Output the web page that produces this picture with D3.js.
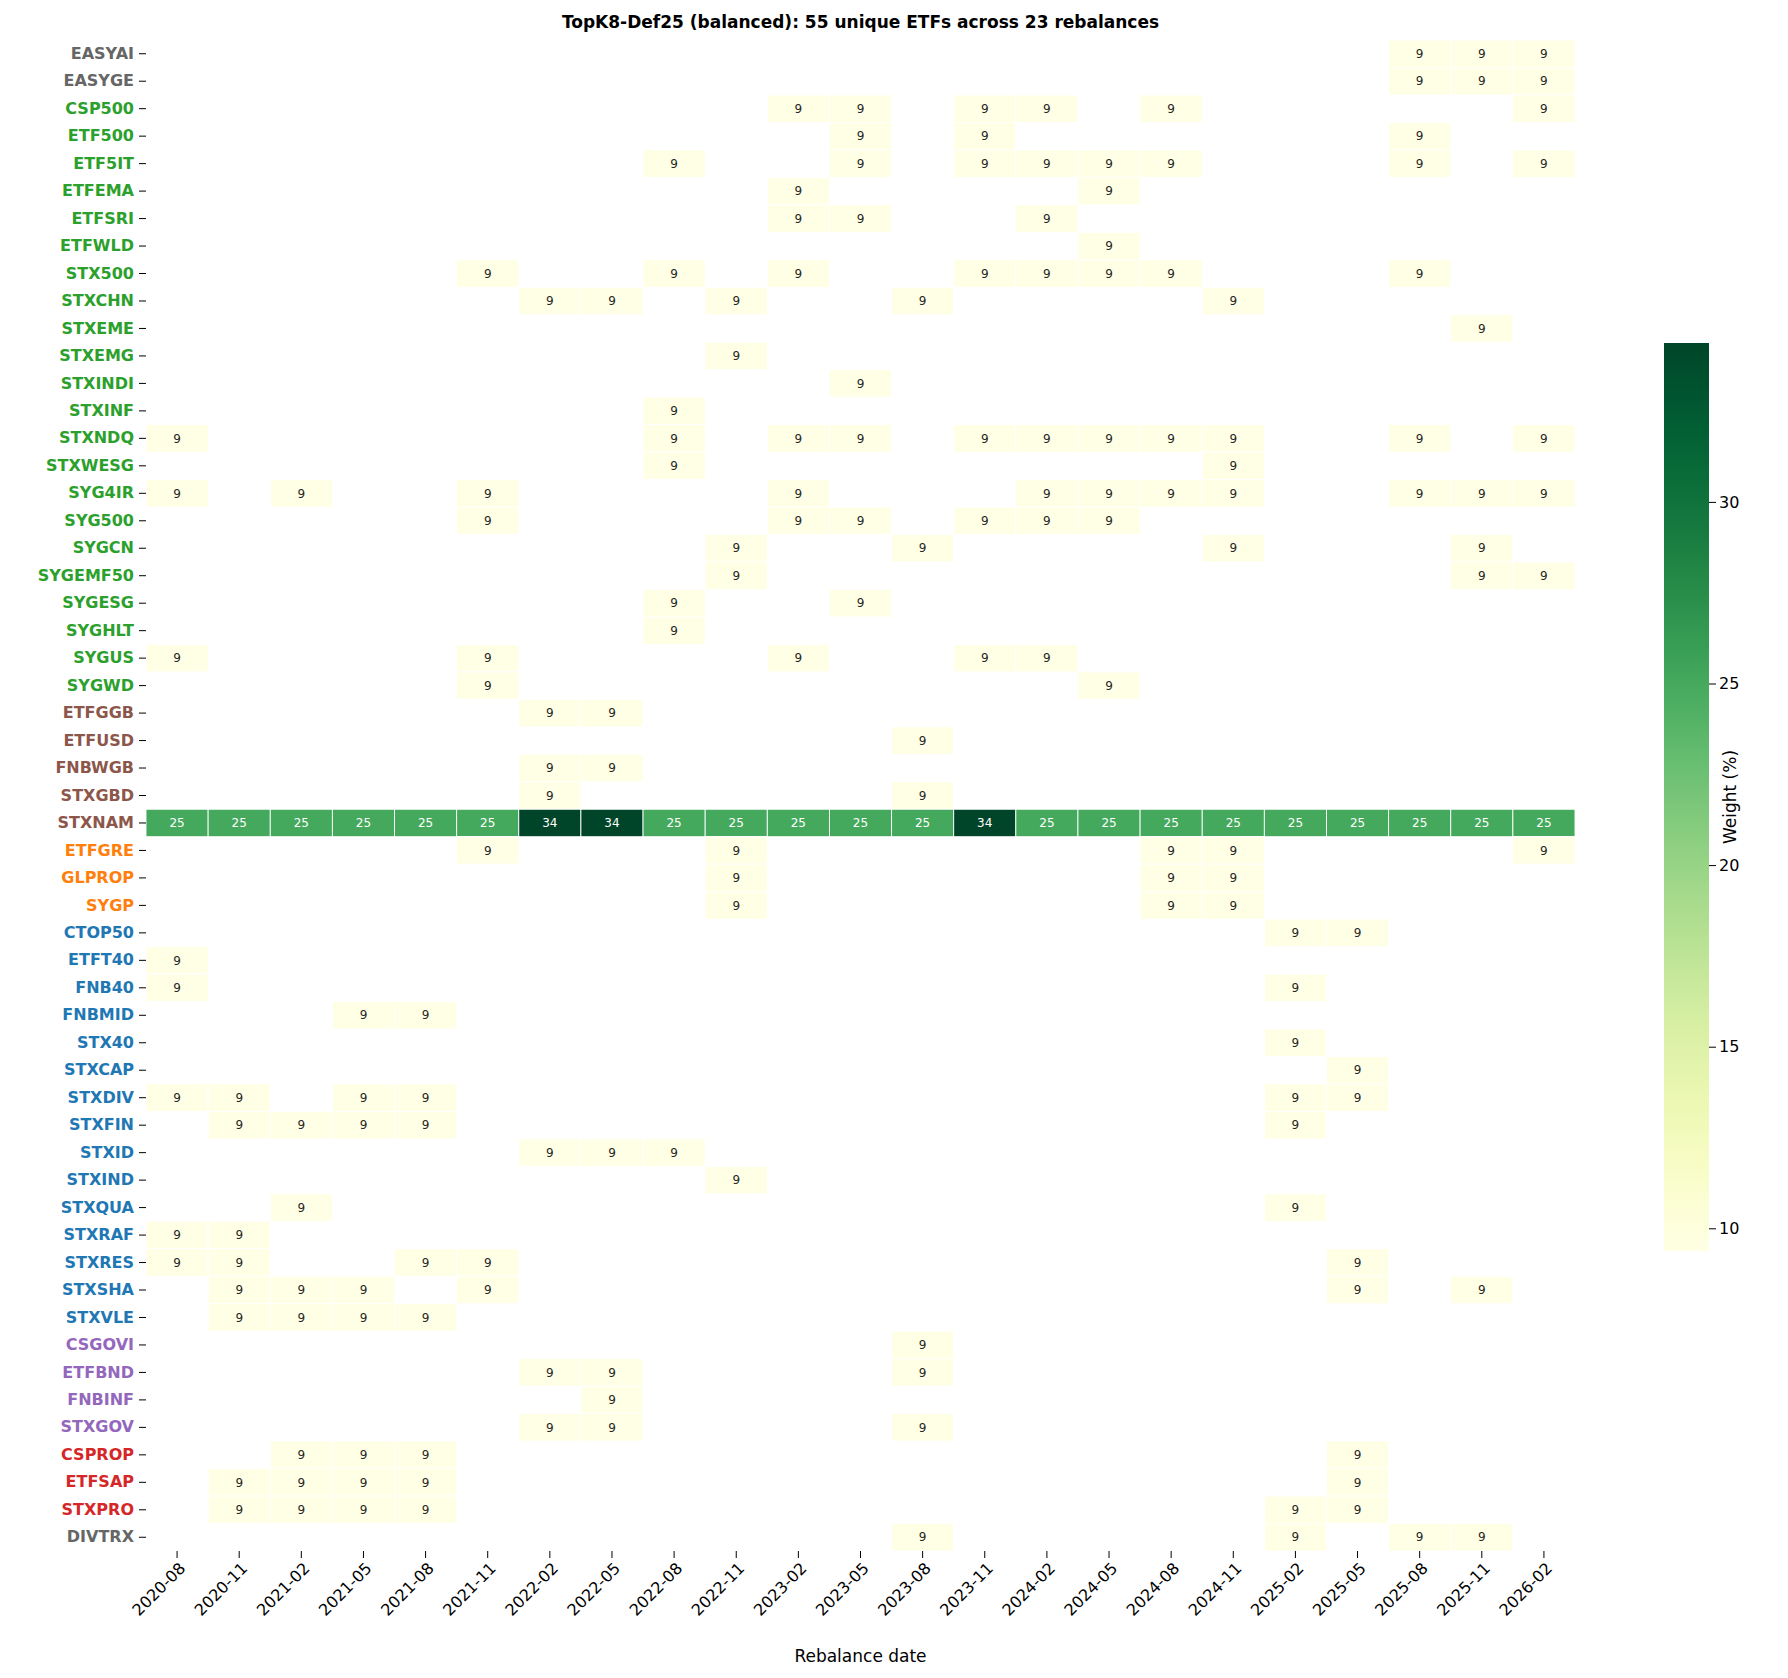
<!DOCTYPE html>
<html><head><meta charset="utf-8">
<script src="https://cdn.jsdelivr.net/npm/d3@7"></script>
<style>body{margin:0;background:#fff;font-family:"DejaVu Sans",sans-serif;}</style>
</head><body><svg id="c" width="1788" height="1678"></svg>
<script>
const dates=["2020-08","2020-11","2021-02","2021-05","2021-08","2021-11","2022-02","2022-05","2022-08","2022-11","2023-02","2023-05","2023-08","2023-11","2024-02","2024-05","2024-08","2024-11","2025-02","2025-05","2025-08","2025-11","2026-02"];
const etfs=["EASYAI","EASYGE","CSP500","ETF500","ETF5IT","ETFEMA","ETFSRI","ETFWLD","STX500","STXCHN","STXEME","STXEMG","STXINDI","STXINF","STXNDQ","STXWESG","SYG4IR","SYG500","SYGCN","SYGEMF50","SYGESG","SYGHLT","SYGUS","SYGWD","ETFGGB","ETFUSD","FNBWGB","STXGBD","STXNAM","ETFGRE","GLPROP","SYGP","CTOP50","ETFT40","FNB40","FNBMID","STX40","STXCAP","STXDIV","STXFIN","STXID","STXIND","STXQUA","STXRAF","STXRES","STXSHA","STXVLE","CSGOVI","ETFBND","FNBINF","STXGOV","CSPROP","ETFSAP","STXPRO","DIVTRX"];
const groups=["other","other","global","global","global","global","global","global","global","global","global","global","global","global","global","global","global","global","global","global","global","global","global","global","bond","bond","bond","bond","bond","prop","prop","prop","sa","sa","sa","sa","sa","sa","sa","sa","sa","sa","sa","sa","sa","sa","sa","gov","gov","gov","gov","saprop","saprop","saprop","other"];
const groupColors={other:"#666666",global:"#2ca02c",bond:"#8c564b",prop:"#ff7f0e",sa:"#1f77b4",gov:"#9467bd",saprop:"#d62728"};
// held columns (index into dates) with 9.375% weight
const held={EASYAI:[20,21,22],EASYGE:[20,21,22],CSP500:[10,11,13,14,16,22],ETF500:[11,13,20],ETF5IT:[8,11,13,14,15,16,20,22],ETFEMA:[10,15],ETFSRI:[10,11,14],ETFWLD:[15],STX500:[5,8,10,13,14,15,16,20],STXCHN:[6,7,9,12,17],STXEME:[21],STXEMG:[9],STXINDI:[11],STXINF:[8],STXNDQ:[0,8,10,11,13,14,15,16,17,20,22],STXWESG:[8,17],SYG4IR:[0,2,5,10,14,15,16,17,20,21,22],SYG500:[5,10,11,13,14,15],SYGCN:[9,12,17,21],SYGEMF50:[9,21,22],SYGESG:[8,11],SYGHLT:[8],SYGUS:[0,5,10,13,14],SYGWD:[5,15],ETFGGB:[6,7],ETFUSD:[12],FNBWGB:[6,7],STXGBD:[6,12],ETFGRE:[5,9,16,17,22],GLPROP:[9,16,17],SYGP:[9,16,17],CTOP50:[18,19],ETFT40:[0],FNB40:[0,18],FNBMID:[3,4],STX40:[18],STXCAP:[19],STXDIV:[0,1,3,4,18,19],STXFIN:[1,2,3,4,18],STXID:[6,7,8],STXIND:[9],STXQUA:[2,18],STXRAF:[0,1],STXRES:[0,1,4,5,19],STXSHA:[1,2,3,5,19,21],STXVLE:[1,2,3,4],CSGOVI:[12],ETFBND:[6,7,12],FNBINF:[7],STXGOV:[6,7,12],CSPROP:[2,3,4,19],ETFSAP:[1,2,3,4,19],STXPRO:[1,2,3,4,18,19],DIVTRX:[12,18,20,21]};
const stxnam=[25,25,25,25,25,25,34.375,34.375,25,25,25,25,25,34.375,25,25,25,25,25,25,25,25,25];
const smallW=9.375;
const cbTicks=[10,15,20,25,30];

const cells=[];
etfs.forEach(e=>{ if(e==="STXNAM") stxnam.forEach((v,i)=>cells.push({e,d:dates[i],v})); else (held[e]||[]).forEach(i=>cells.push({e,d:dates[i],v:smallW})); });

const svg=d3.select("#c");
const L=146,R=1575,T=40,B=1551;
const x=d3.scaleBand().domain(dates).range([L,R]);
const y=d3.scaleBand().domain(etfs).range([T,B]);
const vmin=9.375,vmax=34.375;
const col=v=>d3.interpolateYlGn((v-vmin)/(vmax-vmin));

svg.append("g").selectAll("rect").data(cells).join("rect")
 .attr("x",d=>x(d.d)).attr("y",d=>y(d.e)).attr("width",x.bandwidth()).attr("height",y.bandwidth())
 .attr("fill",d=>col(d.v)).attr("stroke","#fff").attr("stroke-width",0.9);
svg.append("g").selectAll("text").data(cells).join("text")
 .attr("x",d=>x(d.d)+x.bandwidth()/2).attr("y",d=>y(d.e)+y.bandwidth()/2).attr("dy","0.35em")
 .attr("text-anchor","middle").attr("font-size",12)
 .attr("fill",d=>d.v>20?"#fff":"#262626").text(d=>d3.format(".0f")(d.v));

const ya=svg.append("g").attr("transform",`translate(${L},0)`).call(d3.axisLeft(y).tickSize(7).tickPadding(5));
ya.select(".domain").remove();
ya.selectAll("text").attr("font-size",16).attr("font-weight","bold").attr("fill",(d,i)=>groupColors[groups[i]]).attr("font-family","DejaVu Sans");
const xa=svg.append("g").attr("transform",`translate(0,${B})`).call(d3.axisBottom(x).tickSize(7));
xa.select(".domain").remove();
xa.selectAll("text").attr("font-size",16).attr("font-family","DejaVu Sans").attr("text-anchor","end")
 .attr("transform","rotate(-45)").attr("dx","-0.4em").attr("dy","0.6em");
svg.append("text").attr("x",(L+R)/2).attr("y",1662).attr("text-anchor","middle").attr("font-size",17).text("Rebalance date");
svg.append("text").attr("x",(L+R)/2).attr("y",28).attr("text-anchor","middle").attr("font-size",17).attr("font-weight","bold")
 .text(`TopK8-Def25 (balanced): ${etfs.length} unique ETFs across ${dates.length} rebalances`);

const cbx=1664,cbw=45,cbT=343,cbB=1251;
const cy=d3.scaleLinear().domain([vmin,vmax]).range([cbB,cbT]);
const defs=svg.append("defs");
const g=defs.append("linearGradient").attr("id","g").attr("x1",0).attr("x2",0).attr("y1",1).attr("y2",0);
d3.range(0,1.001,0.05).forEach(t=>g.append("stop").attr("offset",t).attr("stop-color",d3.interpolateYlGn(t)));
svg.append("rect").attr("x",cbx).attr("y",cbT).attr("width",cbw).attr("height",cbB-cbT).attr("fill","url(#g)");
const ca=svg.append("g").attr("transform",`translate(${cbx+cbw},0)`).call(d3.axisRight(cy).tickValues(cbTicks).tickSize(7));
ca.select(".domain").remove();
ca.selectAll("text").attr("font-size",16).attr("font-family","DejaVu Sans");
svg.append("text").attr("transform",`translate(1736,${(cbT+cbB)/2}) rotate(-90)`).attr("text-anchor","middle").attr("font-size",17).text("Weight (%)");
</script></body></html>
